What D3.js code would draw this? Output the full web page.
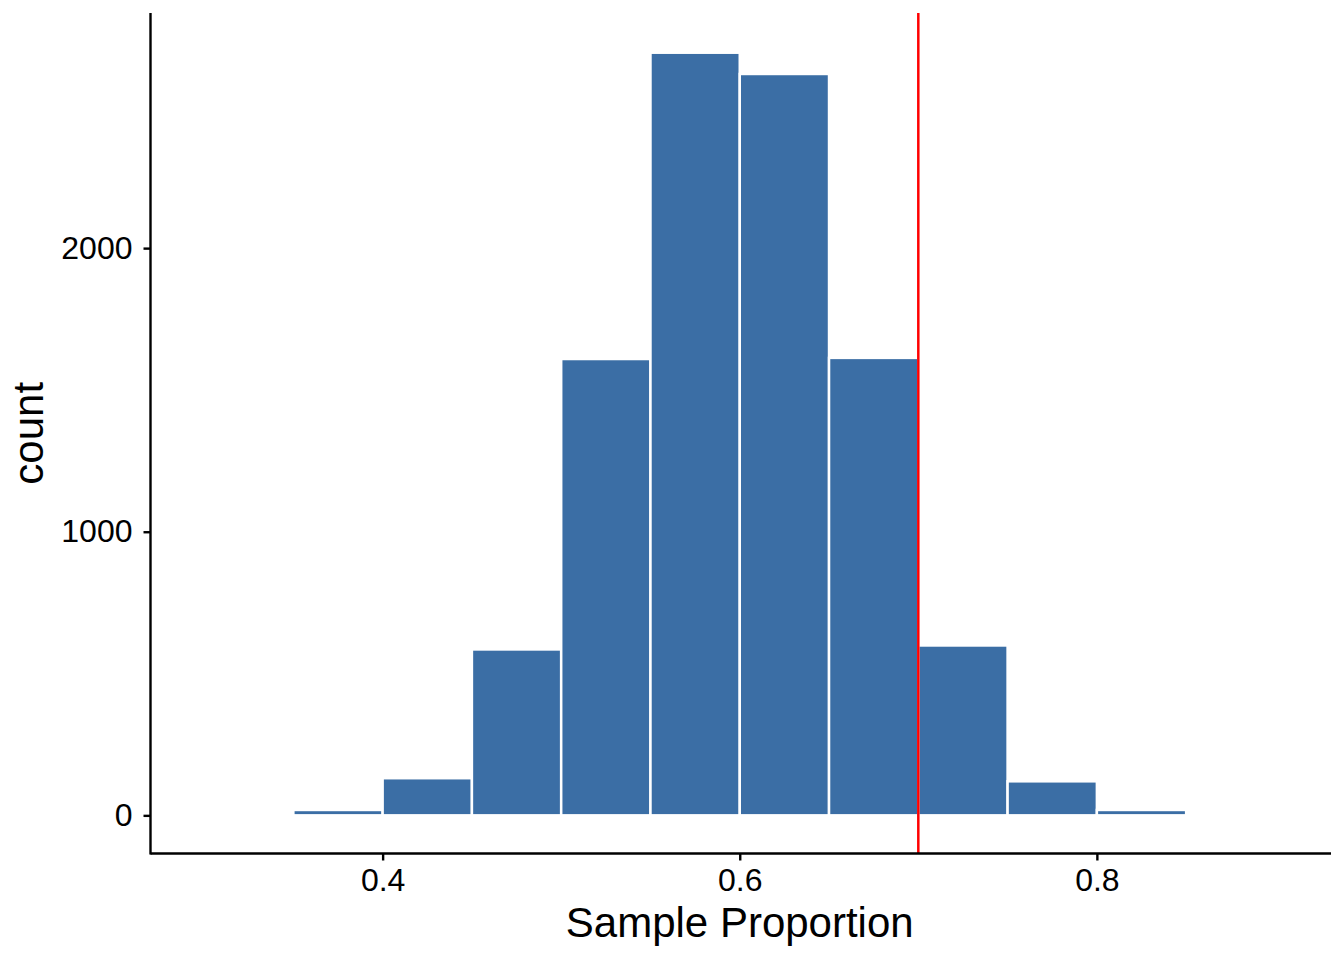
<!DOCTYPE html>
<html>
<head>
<meta charset="utf-8">
<script src="https://cdn.jsdelivr.net/npm/d3@7"></script>
<style>
    body { margin: 0; background: #fff; }
    text { font-family: "Liberation Sans", Arial, Helvetica, sans-serif; fill: #000; }
</style>
</head>
<body>
<div id="chart"></div>
<script>
// histogram bins (left edges) and counts
const binStarts = [0.35, 0.40, 0.45, 0.50, 0.55, 0.60, 0.65, 0.70, 0.75, 0.80];
const binWidth = 0.05;
const counts = [19, 131, 585, 1609, 2689, 2614, 1613, 599, 120, 19];
const xTicks = [0.4, 0.6, 0.8];
const yTicks = [0, 1000, 2000];
const cutoff = 0.7;

const width = 1344;
const height = 960;
const panel = { left: 150.5, right: 1329, top: 13, bottom: 853.5 };

const svg = d3.select("#chart")
    .append("svg")
    .attr("width", width)
    .attr("height", height);

const x = d3.scaleLinear().domain([0.27, 0.93]).range([panel.left, panel.right]);
const y = d3.scaleLinear().domain([-134.5, 2829]).range([panel.bottom, panel.top]);

const bins = binStarts.map((b, i) => ({ x0: b, x1: b + binWidth, count: counts[i] }));

// bars
svg.append("g")
    .selectAll("rect")
    .data(bins)
    .enter().append("rect")
    .attr("x", d => x(d.x0))
    .attr("y", d => y(d.count))
    .attr("width", d => x(d.x1) - x(d.x0))
    .attr("height", d => y(0) - y(d.count))
    .attr("fill", "#3b6ea5")
    .attr("stroke", "#fff")
    .attr("stroke-width", 2.5);

// reference line
svg.append("line")
    .attr("x1", x(cutoff))
    .attr("x2", x(cutoff))
    .attr("y1", panel.top)
    .attr("y2", panel.bottom)
    .attr("stroke", "#ff0000")
    .attr("stroke-width", 2.5);

// x axis
const xAxis = svg.append("g")
    .attr("transform", `translate(0, ${panel.bottom})`)
    .call(d3.axisBottom(x).tickValues(xTicks).tickSize(7).tickPadding(8).tickFormat(d3.format(".1f")).tickSizeOuter(0));
xAxis.select(".domain").attr("stroke", "#000").attr("stroke-width", 2.4)
    .attr("d", `M${panel.left},0H${panel.right + 2}`);
xAxis.selectAll(".tick line").attr("stroke", "#000").attr("stroke-width", 2.4);
xAxis.selectAll(".tick text")
    .attr("font-size", 32)
    .attr("font-family", "Liberation Sans, Arial, sans-serif")
    .attr("fill", "#000");

// y axis
const yAxis = svg.append("g")
    .attr("transform", `translate(${panel.left}, 0)`)
    .call(d3.axisLeft(y).tickValues(yTicks).tickSize(7).tickPadding(11).tickFormat(d3.format("d")).tickSizeOuter(0));
yAxis.select(".domain").attr("stroke", "#000").attr("stroke-width", 2.4)
    .attr("d", `M0,${panel.top}V${panel.bottom + 1}`);
yAxis.selectAll(".tick line").attr("stroke", "#000").attr("stroke-width", 2.4);
yAxis.selectAll(".tick text")
    .attr("font-size", 32)
    .attr("font-family", "Liberation Sans, Arial, sans-serif")
    .attr("fill", "#000");

// axis titles
svg.append("text")
    .attr("x", (panel.left + panel.right) / 2)
    .attr("y", 937)
    .attr("text-anchor", "middle")
    .attr("font-size", 42)
    .text("Sample Proportion");

svg.append("text")
    .attr("transform", `translate(43, ${(panel.top + panel.bottom) / 2}) rotate(-90)`)
    .attr("text-anchor", "middle")
    .attr("font-size", 42)
    .text("count");
</script>
</body>
</html>
